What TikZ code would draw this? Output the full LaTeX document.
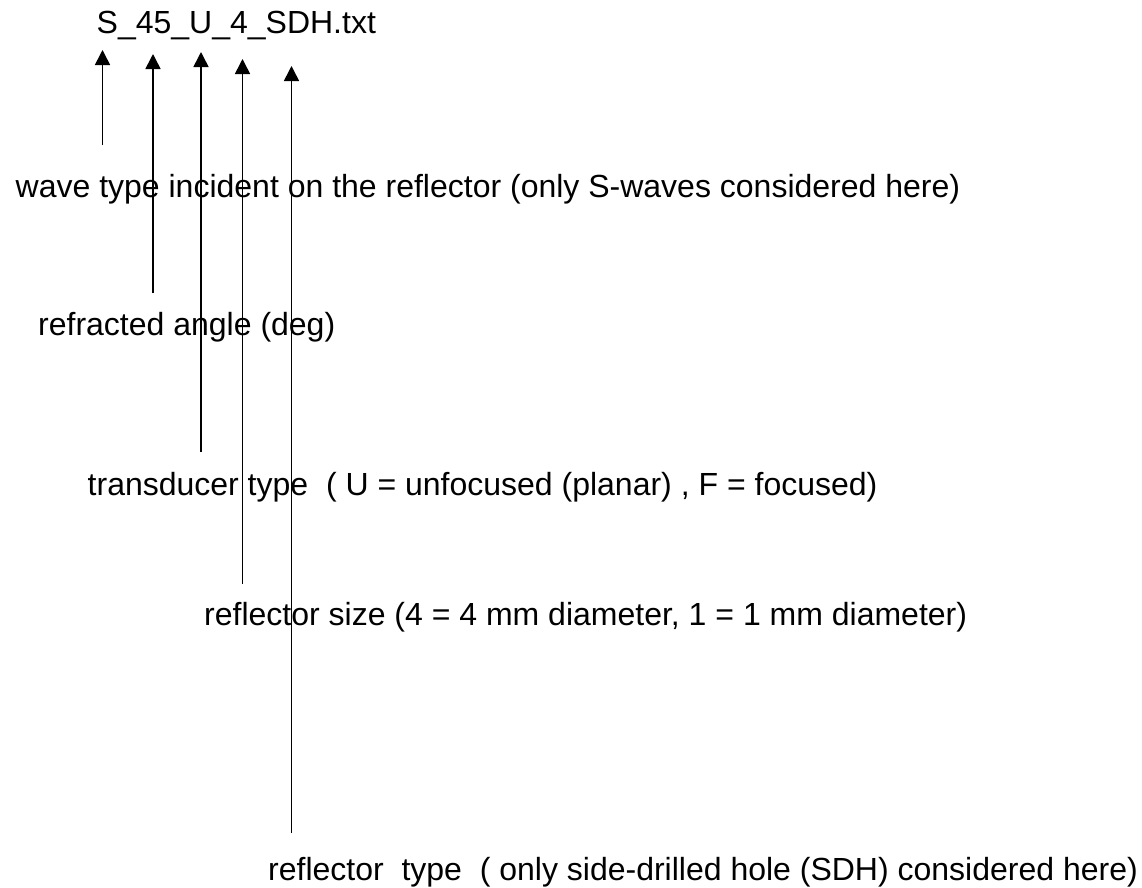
\documentclass[tikz,border=0pt]{standalone}
\usepackage{fontspec}
\setmainfont{Liberation Sans}
\usetikzlibrary{arrows.meta}
\begin{document}
\begin{tikzpicture}[x=1pt,y=-1pt,
  lbl/.style={anchor=base west, inner sep=0pt, font=\fontsize{32}{38}\selectfont},
  pointer/.style={line width=1.6pt, -{Triangle[width=15pt,length=15pt]}}]
\useasboundingbox (0,0) rectangle (1142,887);
\node[lbl] (fname) at (96.5,33) {S\_45\_U\_4\_SDH.txt};
\node[lbl] (wave) at (15.5,197) {wave type incident on the reflector (only S-waves considered here)};
\node[lbl] (angle) at (38,335) {refracted angle (deg)};
\node[lbl] (trans) at (87.5,495) {transducer type\ \ ( U = unfocused (planar) , F = focused)};
\node[lbl] (size) at (204,625) {reflector size (4 = 4 mm diameter, 1 = 1 mm diameter)};
\node[lbl] (rtype) at (268,880) {reflector\ \ type\ \ ( only side-drilled hole (SDH) considered here)};
\coordinate (t1) at (102.5,145); \coordinate (h1) at (102.5,50);
\coordinate (t2) at (153,293);   \coordinate (h2) at (153,54);
\coordinate (t3) at (201,452);   \coordinate (h3) at (201,52);
\coordinate (t4) at (242.5,584); \coordinate (h4) at (242.5,59);
\coordinate (t5) at (291.5,833); \coordinate (h5) at (291.5,66);
\draw[pointer] (t1) -- (h1);
\draw[pointer] (t2) -- (h2);
\draw[pointer] (t3) -- (h3);
\draw[pointer] (t4) -- (h4);
\draw[pointer] (t5) -- (h5);
\end{tikzpicture}
\end{document}
